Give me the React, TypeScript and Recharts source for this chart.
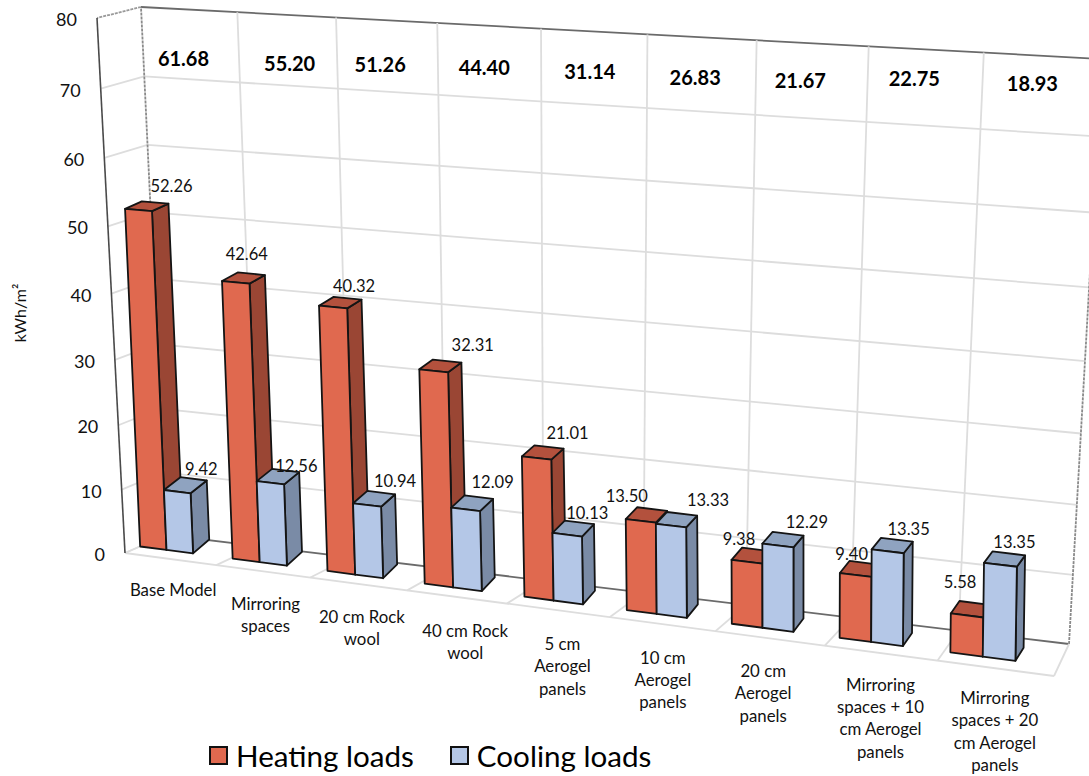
import React from "react";
import {
  BarChart,
  Bar,
  XAxis,
  YAxis,
  CartesianGrid,
  Legend,
  LabelList,
} from "recharts";

const categories = [
  "Base Model",
  "Mirroring\nspaces",
  "20 cm Rock\nwool",
  "40 cm Rock\nwool",
  "5 cm\nAerogel\npanels",
  "10 cm\nAerogel\npanels",
  "20 cm\nAerogel\npanels",
  "Mirroring\nspaces + 10\ncm Aerogel\npanels",
  "Mirroring\nspaces + 20\ncm Aerogel\npanels",
];
const heatingLoads = [52.26, 42.64, 40.32, 32.31, 21.01, 13.5, 9.38, 9.4, 5.58];
const coolingLoads = [9.42, 12.56, 10.94, 12.09, 10.13, 13.33, 12.29, 13.35, 13.35];
const totalLoads = [61.68, 55.2, 51.26, 44.4, 31.14, 26.83, 21.67, 22.75, 18.93];
const yTicks = [0, 10, 20, 30, 40, 50, 60, 70, 80];

const chartData = categories.map((name, i) => ({
  name,
  heating: heatingLoads[i],
  cooling: coolingLoads[i],
}));

// plot box handed to recharts, everything is then projected to the 3d look
const PLOT = { left: 100, top: 20, width: 939, height: 646 };
const FONT = "Lato";

type Pt = [number, number];

// unit square -> quad (tl, tr, br, bl)
const makeProjection = (tl: Pt, tr: Pt, br: Pt, bl: Pt) => {
  const dx1 = tr[0] - br[0];
  const dx2 = bl[0] - br[0];
  const dx3 = tl[0] - tr[0] + br[0] - bl[0];
  const dy1 = tr[1] - br[1];
  const dy2 = bl[1] - br[1];
  const dy3 = tl[1] - tr[1] + br[1] - bl[1];
  const det = dx1 * dy2 - dx2 * dy1;
  const g = (dx3 * dy2 - dx2 * dy3) / det;
  const h = (dx1 * dy3 - dx3 * dy1) / det;
  const a = tr[0] - tl[0] + g * tr[0];
  const b = bl[0] - tl[0] + h * bl[0];
  const d = tr[1] - tl[1] + g * tr[1];
  const e = bl[1] - tl[1] + h * bl[1];
  return (u: number, v: number): Pt => {
    const s = u;
    const t = 1 - v;
    const w = g * s + h * t + 1;
    return [(a * s + b * t + tl[0]) / w, (d * s + e * t + tl[1]) / w];
  };
};

const barFront = makeProjection([97, 22], [1050, 80], [1040, 664], [121, 544]);
const barBack = makeProjection([114, 18], [1058, 77], [1048, 651], [138, 530]);
const wallBack = makeProjection([141, 7], [1102, 59], [1069, 644], [166, 535]);
const wallFront = makeProjection([97, 18], [1089, 66], [1054, 676], [125, 553]);

const toU = (x: number) => (x - PLOT.left) / PLOT.width;
const toV = (y: number) => (PLOT.top + PLOT.height - y) / PLOT.height;
const poly = (pts: Pt[]) => pts.map((p) => p.join(",")).join(" ");

const bandEdges = categories.map((_, i) => PLOT.left + (PLOT.width * i) / categories.length);
bandEdges.push(PLOT.left + PLOT.width);

const shade3d = (side: string, top: string) => (props: any) => {
  const { x, y, width, height, fill } = props;
  const u0 = toU(x);
  const u1 = toU(x + width);
  const v0 = toV(y + height);
  const v1 = toV(y);
  const edge = { stroke: "#141414", strokeWidth: 1.8, strokeLinejoin: "round" as const };
  return (
    <g>
      <polygon
        points={poly([barFront(u1, v0), barBack(u1, v0), barBack(u1, v1), barFront(u1, v1)])}
        fill={side}
        {...edge}
      />
      <polygon
        points={poly([barFront(u0, v1), barFront(u1, v1), barBack(u1, v1), barBack(u0, v1)])}
        fill={top}
        {...edge}
      />
      <polygon
        points={poly([barFront(u0, v0), barFront(u1, v0), barFront(u1, v1), barFront(u0, v1)])}
        fill={fill}
        {...edge}
      />
    </g>
  );
};

const line = (a: Pt, b: Pt, stroke: string, strokeWidth: number, dash?: string) => (
  <line
    x1={a[0]}
    y1={a[1]}
    x2={b[0]}
    y2={b[1]}
    stroke={stroke}
    strokeWidth={strokeWidth}
    strokeDasharray={dash}
  />
);

const HorizontalGrid = (props: any) => {
  const v = toV(props.y1);
  const isTop = v > 0.999;
  const isFloor = v < 0.001;
  return (
    <g key={props.key}>
      {line(wallBack(0, v), wallBack(1, v), isTop || isFloor ? "#6a6a6a" : "#dddddd", 1.8)}
      {line(wallBack(0, v), wallFront(0, v), isTop ? "#9a9a9a" : "#dddddd", 1.8, isTop ? "3 1" : undefined)}
      {isFloor && line(wallFront(0, 0), wallFront(1, 0), "#dddddd", 1.8)}
    </g>
  );
};

const VerticalGrid = (props: any) => {
  const u = toU(props.x1);
  const isEdge = u < 0.001 || u > 0.999;
  return (
    <g key={props.key}>
      {line(wallBack(u, 0), wallBack(u, 1), isEdge ? "#8a8a8a" : "#dddddd", 1.8, isEdge ? "3 1" : undefined)}
      {line(wallBack(u, 0), wallFront(u, 0), "#dddddd", 1.8)}
    </g>
  );
};

const LeftEdge = (props: any) => {
  const { y, payload } = props;
  const v = toV(y);
  const p = wallFront(0, v);
  return (
    <g>
      {payload.value === 0 && line(wallFront(0, 0), wallFront(0, 1), "#4a4a4a", 1.6)}
      <text
        x={p[0] - 20}
        y={p[1] + 1}
        textAnchor="end"
        dominantBaseline="central"
        fontFamily={FONT}
        fontSize={18}
        fill="#111"
      >
        {payload.value}
      </text>
    </g>
  );
};

// hand placed in the original, so small nudges from the band centre
const nameNudge = [21, 9, 1, 0, -7, -11, -15, -2, 8];
const NAME_TOP = 589;
const NAME_STEP = 13.5;
const NAME_LINE = 22.4;

const totalNudge: Pt[] = [
  [-7, 10],
  [2, 9],
  [-7, 4],
  [-5, 1],
  [-4, -1],
  [-6, -1],
  [-11, -5],
  [-10, -13],
  [-8, -15],
];

// category names below the floor, the total of each band up on the back wall
const CategoryTick = (props: any) => {
  const { x, index, payload } = props;
  const lines = String(payload.value).split("\n");
  const p = wallBack(toU(x), 74.5 / 80);
  return (
    <g>
      <text
        textAnchor="middle"
        fontFamily={FONT}
        fontSize={16.8}
        fill="#111"
        dominantBaseline="central"
      >
        {lines.map((t, i) => (
          <tspan
            key={i}
            x={x + nameNudge[index]}
            y={NAME_TOP + NAME_STEP * index + NAME_LINE * i}
          >
            {t}
          </tspan>
        ))}
      </text>
      <text
        x={p[0] + totalNudge[index][0]}
        y={p[1] + totalNudge[index][1]}
        textAnchor="middle"
        dominantBaseline="central"
        fontFamily={FONT}
        fontWeight={700}
        fontSize={20}
        fill="#000"
      >
        {totalLoads[index].toFixed(2)}
      </text>
    </g>
  );
};

const heatingNudge: Pt[] = [
  [33, -24],
  [11, -28],
  [21, -21.5],
  [39, -26],
  [31, -25],
  [-14, -25],
  [-8, -23],
  [-4, -21],
  [-7, -33],
];
const coolingNudge: Pt[] = [
  [24, -23],
  [26, -17],
  [28, -24],
  [27, -27],
  [20, -22],
  [37, -26],
  [29, -24],
  [21, -22],
  [14, -23],
];

const valueLabel = (nudge: Pt[]) => (props: any) => {
  const { index, value, viewBox } = props;
  const bx = props.x ?? viewBox.x;
  const by = props.y ?? viewBox.y;
  const bw = props.width ?? viewBox.width;
  const p = barFront(toU(bx + bw / 2), toV(by));
  return (
    <text
      x={p[0] + nudge[index][0]}
      y={p[1] + nudge[index][1]}
      textAnchor="middle"
      dominantBaseline="central"
      fontFamily={FONT}
      fontSize={16.5}
      fill="#111"
    >
      {Number(value).toFixed(2)}
    </text>
  );
};

const LegendRow = ({ payload }: any) => (
  <div style={{ display: "flex", alignItems: "center", fontFamily: FONT, fontSize: 29.6, color: "#000" }}>
    {(payload || []).map((item: any, i: number) => (
      <div key={item.value} style={{ display: "flex", alignItems: "center", marginRight: i === 0 ? 36 : 0 }}>
        <span
          style={{
            display: "inline-block",
            width: 15,
            height: 15,
            background: item.color,
            border: "2.5px solid #111",
            marginRight: 8,
          }}
        />
        {item.value}
      </div>
    ))}
  </div>
);

export default function App() {
  return (
    <div style={{ position: "absolute", left: 0, top: 0 }}>
      <BarChart
        width={1089}
        height={776}
        data={chartData}
        barGap={0}
        barCategoryGap="21%"
        margin={{ top: 20, right: 50, bottom: 0, left: 0 }}
      >
        <CartesianGrid
          horizontal={HorizontalGrid}
          vertical={VerticalGrid}
          verticalPoints={bandEdges}
        />
        <XAxis
          dataKey="name"
          height={110}
          axisLine={false}
          tickLine={false}
          interval={0}
          tick={CategoryTick}
        />
        <YAxis
          width={100}
          domain={[0, 80]}
          ticks={yTicks}
          axisLine={false}
          tickLine={false}
          tick={LeftEdge}
          label={{
            value: "kWh/m²",
            angle: -90,
            position: "insideLeft",
            dx: 15,
            dy: -30,
            fontFamily: FONT,
            fontSize: 16,
            fill: "#111",
            style: { textAnchor: "middle" },
          }}
        />
        <Legend
          layout="horizontal"
          align="center"
          verticalAlign="middle"
          content={LegendRow}
          itemSorter={null as any}
          wrapperStyle={{ position: "absolute", left: 209, top: 738, width: 480, height: 36 }}
        />
        <Bar
          dataKey="heating"
          name="Heating loads"
          fill="#E0694F"
          shape={shade3d("#9A4634", "#B3513D")}
          isAnimationActive={false}
        >
          <LabelList dataKey="heating" content={valueLabel(heatingNudge)} />
        </Bar>
        <Bar
          dataKey="cooling"
          name="Cooling loads"
          fill="#B4C7E7"
          shape={shade3d("#7A8BA6", "#8FA3C0")}
          isAnimationActive={false}
        >
          <LabelList dataKey="cooling" content={valueLabel(coolingNudge)} />
        </Bar>
      </BarChart>
    </div>
  );
}
